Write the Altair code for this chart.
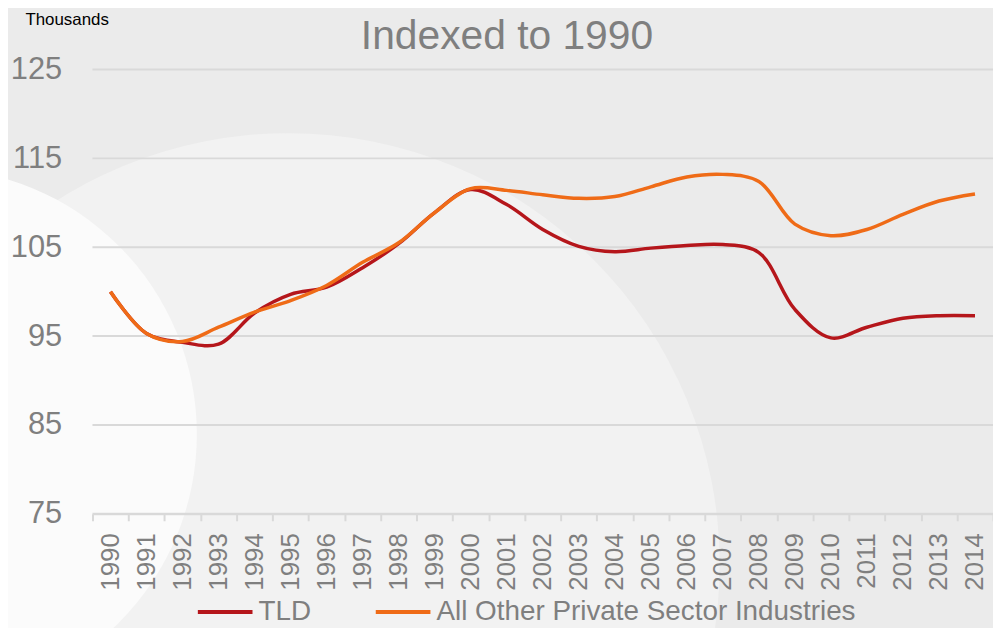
import altair as alt
import pandas as pd

years = [str(y) for y in range(1990, 2015)]
tld = [100.0, 95.3, 94.3, 94.1, 97.6, 99.7, 100.5, 102.7, 105.4, 108.9,
       111.5, 109.8, 107.0, 105.1, 104.5, 104.9, 105.2, 105.3, 104.4, 98.0,
       94.8, 96.0, 97.0, 97.3, 97.3]
other = [100.0, 95.3, 94.4, 96.0, 97.7, 99.0, 100.7, 103.3, 105.5, 108.9,
         111.6, 111.4, 110.9, 110.5, 110.7, 111.8, 112.9, 113.2, 112.4, 107.6,
         106.3, 107.0, 108.7, 110.2, 111.0]
series = ["TLD", "All Other Private Sector Industries"]
colors = ["#b5161b", "#ef6b17"]
y_ticks = [75, 85, 95, 105, 115, 125]

rows = []
for name, vals in zip(series, [tld, other]):
    for yr, v in zip(years, vals):
        rows.append({"year": yr, "value": v, "series": name})
df = pd.DataFrame(rows)
grid_df = pd.DataFrame({"value": y_ticks})

FONT = "Liberation Sans"
GRAY = "#7f7f7f"
PW, PH = 906, 447

y_scale = alt.Scale(domain=[75, 125], nice=False, zero=False)
y_axis = alt.Axis(
    values=y_ticks, title="Thousands", titleAngle=0, titleAlign="left",
    titleBaseline="alphabetic", titleX=-68, titleY=-45, titleFontSize=17,
    titleFont=FONT, titleFontWeight="normal", titleColor="#000000",
    labelFontSize=31, labelFont=FONT, labelColor=GRAY, labelPadding=31,
    ticks=False, domain=False, grid=False, zindex=1,
)

x_enc = alt.X(
    "year:O",
    bandPosition=0.5,
    scale=alt.Scale(type="band", paddingInner=0, paddingOuter=0),
    axis=alt.Axis(
        title=None, labelAngle=270, labelFontSize=26, labelFont=FONT,
        labelColor=GRAY, labelPadding=12, tickBand="extent", tickSize=7,
        tickColor="#d9d9d9", tickWidth=2, domainColor="#d9d9d9",
        domainWidth=2, grid=False, zindex=1,
    ),
)
y_enc = alt.Y("value:Q", scale=y_scale, axis=y_axis)
color_enc = alt.Color(
    "series:N",
    scale=alt.Scale(domain=series, range=colors),
    sort=series,
    legend=alt.Legend(
        title=None, orient="none", direction="horizontal", legendX=104,
        legendY=516, symbolType="stroke", symbolStrokeWidth=4,
        symbolSize=3025, labelFontSize=28, labelFont=FONT, labelColor=GRAY,
        labelOffset=4, columnPadding=57, labelLimit=600,
    ),
)

# decorative background discs (symbol size = (2r)^2)
deco = alt.Chart(alt.Data(values=[{}]))
big_circle = deco.mark_circle(opacity=1, color="#f2f2f2").encode(
    x=alt.value(197), y=alt.value(498), size=alt.value(753424)
)
white_circle = deco.mark_circle(opacity=1, color="#fbfbfb").encode(
    x=alt.value(-163), y=alt.value(367), size=alt.value(287296)
)

grid = alt.Chart(grid_df).mark_rule(color="#d9d9d9", strokeWidth=2).encode(
    y=y_enc
)

base = alt.Chart(df)
line_tld = base.transform_filter(alt.datum.series == "TLD").mark_line(
    strokeWidth=3.5, interpolate="catmull-rom"
).encode(x=x_enc, y=y_enc, color=color_enc)
line_other = base.transform_filter(alt.datum.series != "TLD").mark_line(
    strokeWidth=3.5, interpolate="catmull-rom"
).encode(x=x_enc, y=y_enc, color=color_enc)

chart = alt.layer(big_circle, white_circle, grid, line_tld, line_other).properties(
    width=PW, height=PH,
    title=alt.TitleParams(
        "Indexed to 1990", fontSize=41, font=FONT, fontWeight="normal",
        color=GRAY, anchor="middle", frame="group", dx=-36, offset=0, dy=47,
    ),
    autosize=alt.AutoSizeParams(type="none"),
    padding={"left": 85, "top": 60, "right": 0, "bottom": 113},
    background="#ebebeb",
).configure_view(stroke=None)

chart.save("out.html", embed_options={"renderer": "svg", "actions": False})
